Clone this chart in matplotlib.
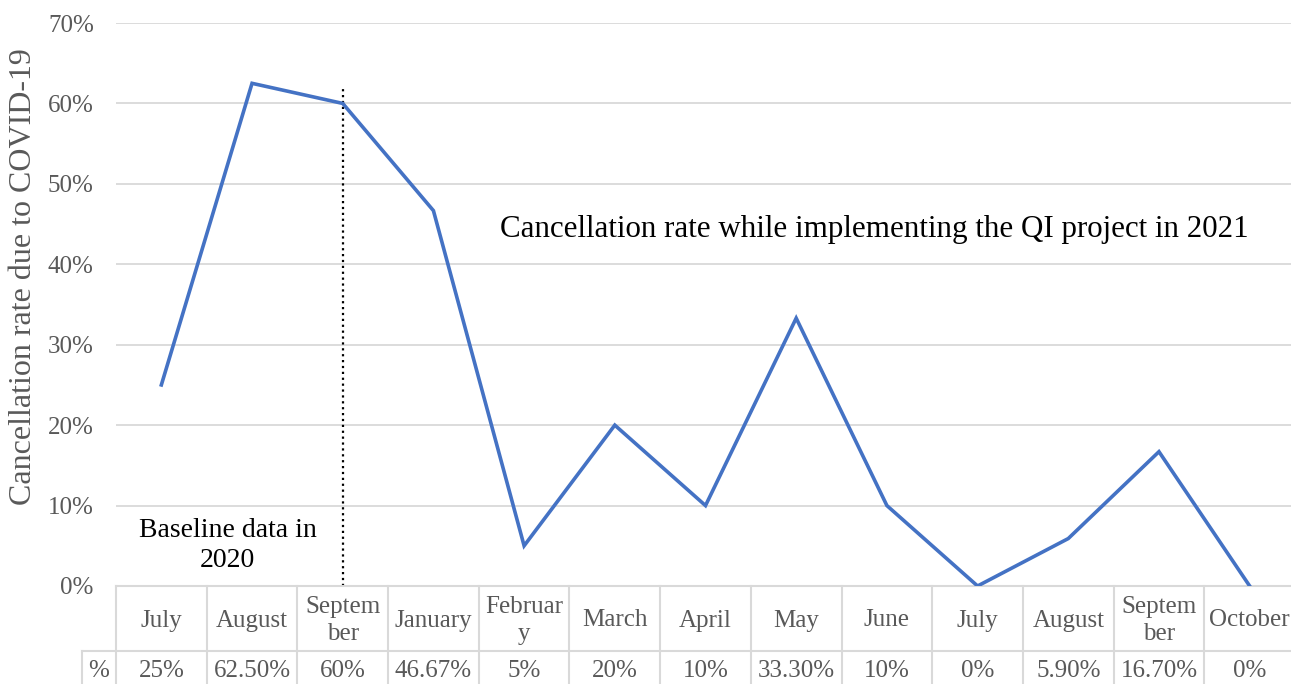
import matplotlib.pyplot as plt
from matplotlib.transforms import blended_transform_factory

months = ["July", "August", "Septem\nber", "January", "Februar\ny", "March", "April",
          "May", "June", "July", "August", "Septem\nber", "October"]
rates = [25, 62.5, 60, 46.67, 5, 20, 10, 33.3, 10, 0, 5.9, 16.7, 0]
table_labels = ["25%", "62.50%", "60%", "46.67%", "5%", "20%", "10%", "33.30%",
                "10%", "0%", "5.90%", "16.70%", "0%"]
yticks = [0, 10, 20, 30, 40, 50, 60, 70]

plt.rcParams['font.family'] = ['Liberation Serif', 'DejaVu Serif']
grey = '#595959'
border = '#d9d9d9'
fs = 18

W, H = 1291, 684
fig = plt.figure(figsize=(W / 100, H / 100), dpi=100)
ax = fig.add_axes([116 / W, (H - 586) / H, (1295 - 116) / W, (586 - 23) / H])

x = list(range(len(months)))
ax.plot(x, rates, color='#4472C4', lw=2.6, solid_joinstyle='miter', zorder=3)

ax.set_xlim(-0.5, len(months) - 0.5)
ax.set_ylim(0, 70)
ax.set_yticks(yticks)
ax.set_yticklabels([f"{v}%" for v in yticks], color=grey, fontsize=fs)
ax.tick_params(axis='y', length=0, pad=16)
ax.set_xticks([])
ax.grid(axis='y', color=border, lw=1.3)
ax.set_axisbelow(True)
for s in ax.spines.values():
    s.set_visible(False)

ax.set_ylabel("Cancellation rate due to COVID-19", color=grey, fontsize=23)
ax.yaxis.set_label_coords(-0.066, 0.549)

# baseline divider
ax.plot([2, 2], [0, 62], color='black', ls=':', lw=1.6, zorder=2)
ax.text(0.73, 5.0, "Baseline data in\n2020", ha='center', va='center', fontsize=20,
        linespacing=1.25)
ax.text(3.73, 44.3, "Cancellation rate while implementing the QI project in 2021",
        ha='left', va='center', fontsize=22.3)

# data table under the axis
px = 1 / (586 - 23)  # one pixel in axes fraction
r1 = -65 * px
r2 = -110 * px
tr = blended_transform_factory(ax.transData, ax.transAxes)
n = len(months)
line_kw = dict(color=border, lw=1.5, clip_on=False, transform=tr)
ax.plot([-0.5, n - 0.5], [0, 0], **line_kw)
ax.plot([-0.5 - 34 / 90.7, n - 0.5], [r1, r1], **line_kw)
for i in range(n + 1):
    ax.plot([i - 0.5, i - 0.5], [0, r2], **line_kw)
ax.plot([-0.5 - 34 / 90.7] * 2, [r1, r2], **line_kw)

for i, (m, v) in enumerate(zip(months, table_labels)):
    ax.text(i, r1 / 2 - 2 * px, m, ha='center', va='center', color=grey, fontsize=fs,
            linespacing=1.35, transform=tr, clip_on=False)
    ax.text(i, r1 - 40 * px / 2, v, ha='center', va='center', color=grey,
            fontsize=fs, transform=tr, clip_on=False)
ax.text(-0.5 - 17 / 90.7, r1 - 40 * px / 2, "%", ha='center', va='center',
        color=grey, fontsize=fs, transform=tr, clip_on=False)

fig.savefig("out.png", dpi=100)
